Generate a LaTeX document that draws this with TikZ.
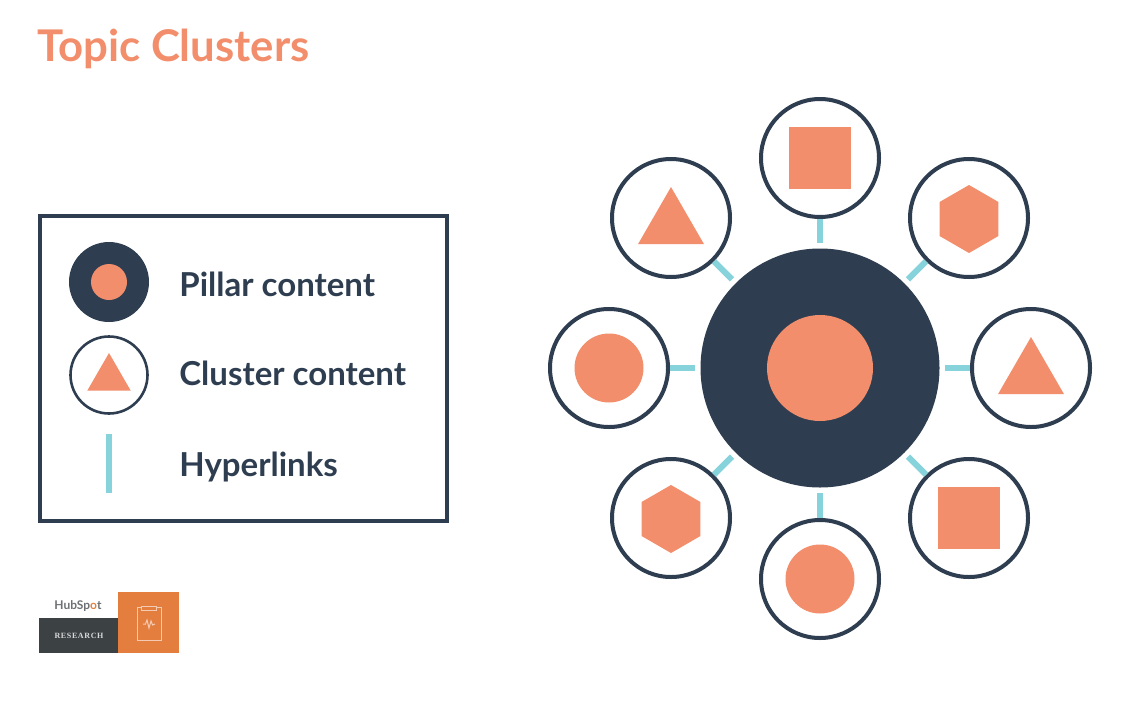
\documentclass[tikz,border=0pt]{standalone}
\usepackage{fontspec}
\setmainfont{Lato}
\newfontfamily\logoserif[LetterSpace=8]{Liberation Serif}
\usetikzlibrary{calc,positioning,shapes.geometric}
\definecolor{navy}{HTML}{2E3E50}
\definecolor{salmon}{HTML}{F28E6B}
\definecolor{teal}{HTML}{86D3DB}
\definecolor{logoorange}{HTML}{E47E3F}
\definecolor{logogrey}{HTML}{3C4144}
\tikzset{
  pillarnode/.style={circle,fill=navy,inner sep=0pt,minimum size=119.5pt},
  clusternode/.style={circle,draw=navy,line width=2pt,fill=white,inner sep=0pt,minimum size=59pt},
  hyperlink/.style={draw=teal,line width=3pt,shorten >=2.5pt},
  roundshape/.style={circle,fill=salmon,inner sep=0pt,minimum size=34.5pt},
  squareshape/.style={rectangle,fill=salmon,inner sep=0pt,minimum size=31pt},
  triangleshape/.style={regular polygon,regular polygon sides=3,fill=salmon,inner sep=0pt,minimum size=38pt},
  hexshape/.style={regular polygon,regular polygon sides=6,shape border rotate=30,fill=salmon,inner sep=0pt,minimum size=34pt},
  legendlabel/.style={anchor=base west,text=navy,font=\fontsize{16.5}{18}\selectfont\bfseries,inner sep=0pt},
}
\begin{document}
\begin{tikzpicture}[x=0.5pt,y=-0.5pt]
    \useasboundingbox (0,0) rectangle (1140,702);
    \node[anchor=base west,inner sep=0pt,text=salmon,font=\fontsize{21.85}{24}\selectfont\bfseries] (title) at (37,61) {Topic Clusters};
    % legend
    \node[draw=navy,line width=2pt,inner sep=0pt,minimum width=203.5pt,minimum height=152.5pt] (legend) at (243,368.5) {};
    \node[pillarnode,minimum size=40pt] (legendpillar) at (109,282) {};
    \node[roundshape,minimum size=18pt] (legenddot) at (109,282) {};
    \node[clusternode,line width=1.3pt,minimum size=38.5pt] (legendcluster) at (109,375) {};
    \node[triangleshape,minimum size=25pt] (legendtri) at (109,378) {};
    \coordinate (linktop) at (109,434);
    \coordinate (linkbot) at (109,493);
    \draw[hyperlink,shorten >=0pt] (linktop) -- (linkbot);
    \node[legendlabel] (pillarlabel) at (179,296) {Pillar content};
    \node[legendlabel] (clusterlabel) at (179,385) {Cluster content};
    \node[legendlabel] (linklabel) at (179,476) {Hyperlinks};
    % hub and spokes
    \node[pillarnode] (pillar) at (820,368) {};
    \node[roundshape,minimum size=53pt] (pillardot) at (820,368) {};
    \node[clusternode] (top) at (820,158) {};
    \node[clusternode] (upright) at (969,218) {};
    \node[clusternode] (right) at (1031,368) {};
    \node[clusternode] (lowright) at (969,518) {};
    \node[clusternode] (bottom) at (820,579) {};
    \node[clusternode] (lowleft) at (671,518) {};
    \node[clusternode] (left) at (609,368) {};
    \node[clusternode] (upleft) at (671,218) {};
    \draw[hyperlink] (top) -- (pillar);
    \draw[hyperlink] (upright) -- (pillar);
    \draw[hyperlink] (right) -- (pillar);
    \draw[hyperlink] (lowright) -- (pillar);
    \draw[hyperlink] (bottom) -- (pillar);
    \draw[hyperlink] (lowleft) -- (pillar);
    \draw[hyperlink] (left) -- (pillar);
    \draw[hyperlink] (upleft) -- (pillar);
    \node[squareshape] (topshape) at (820,158) {};
    \node[hexshape] (uprightshape) at (969,219) {};
    \node[triangleshape] (rightshape) at (1031,375) {};
    \node[squareshape] (lowrightshape) at (969,518) {};
    \node[roundshape] (bottomshape) at (820,579) {};
    \node[hexshape] (lowleftshape) at (671,519) {};
    \node[roundshape] (leftshape) at (609,368) {};
    \node[triangleshape] (upleftshape) at (671,225) {};
    % logo
    \node[fill=logogrey,inner sep=0pt,minimum width=39.5pt,minimum height=17.5pt] (logobar) at (78.5,635.5) {};
    \node[fill=logoorange,inner sep=0pt,minimum width=30.5pt,minimum height=30.5pt] (logobox) at (148.5,622.5) {};
    \node[font=\fontsize{4}{5}\selectfont\logoserif\bfseries,text=white!80!logogrey,inner sep=0pt] (logotext) at (79,636) {RESEARCH};
    \node[font=\fontsize{6}{7}\selectfont\bfseries,text=logogrey!75,inner sep=0pt] (hubspot) at (78,606) {HubSp\textcolor{logoorange}{o}t};
    \node[draw=white!60!logoorange,line width=0.5pt,inner sep=0pt,minimum width=12pt,minimum height=16.5pt] (clipboard) at (149,623.5) {};
    \node[draw=white!60!logoorange,line width=0.5pt,fill=logoorange,inner sep=0pt,minimum width=7.5pt,minimum height=2pt] (clip) at (148.5,608) {};
    \draw[draw=white!60!logoorange,line width=0.5pt] (143,624) -- (145.5,624) -- (147,620) -- (149,628) -- (151,621) -- (152.5,625) -- (155,624);
\end{tikzpicture}
\end{document}
